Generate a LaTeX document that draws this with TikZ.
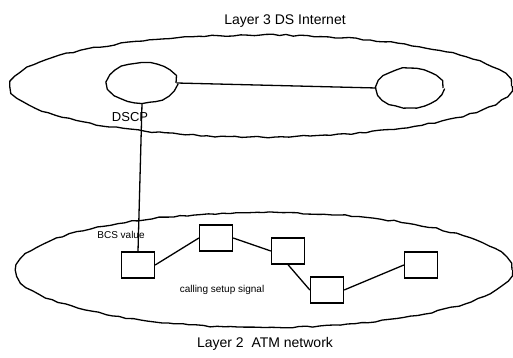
\documentclass[tikz,border=0pt]{standalone}
\usepackage{fontspec}
\setmainfont{Liberation Sans}
\usetikzlibrary{shapes.geometric,decorations.pathmorphing}
\begin{document}
\begin{tikzpicture}[x=1pt,y=-1pt,line width=1.3pt,
  cloud/.style={draw,ellipse,inner sep=0pt,decorate,decoration={random steps,segment length=7pt,amplitude=0.8pt}},
  sw/.style={draw,rectangle,inner sep=0pt,minimum width=33pt,minimum height=26pt},
  lbl/.style={inner sep=0pt}]
\pgfmathsetseed{7}
\useasboundingbox (0,0) rectangle (513,358);
\node[cloud,minimum width=501pt,minimum height=102pt] (top) at (261,86) {};
\node[cloud,minimum width=496pt,minimum height=115pt] (bot) at (264,270) {};
\node[cloud,minimum width=68pt,minimum height=40pt] (d1) at (142,83) {};
\node[cloud,minimum width=66pt,minimum height=39pt] (d2) at (410,88) {};
\node[sw] (b1) at (138,265) {};
\node[sw] (b2) at (216,238) {};
\node[sw] (b3) at (288,251) {};
\node[sw] (b4) at (327,290) {};
\node[sw] (b5) at (421,265) {};
\draw (d1.east) -- (d2.west);
\draw (d1.south) -- (b1.north);
\draw (b1.east) -- (b2.west);
\draw (b2.east) -- (b3.west);
\draw (b3.south) -- (b4.west);
\draw (b4.east) -- (b5.west);
\node[lbl,font=\fontsize{14}{16}\selectfont] (t1) at (285,21) {Layer 3 DS Internet};
\node[lbl,font=\fontsize{13}{15}\selectfont] (t2) at (130,117) {DSCP};
\node[lbl,font=\fontsize{10}{12}\selectfont] (t3) at (121,235) {BCS value};
\node[lbl,font=\fontsize{10}{12}\selectfont] (t4) at (222,290) {calling setup signal};
\node[lbl,font=\fontsize{14}{16}\selectfont] (t5) at (265,344) {Layer 2\ \ ATM network};
\end{tikzpicture}
\end{document}
